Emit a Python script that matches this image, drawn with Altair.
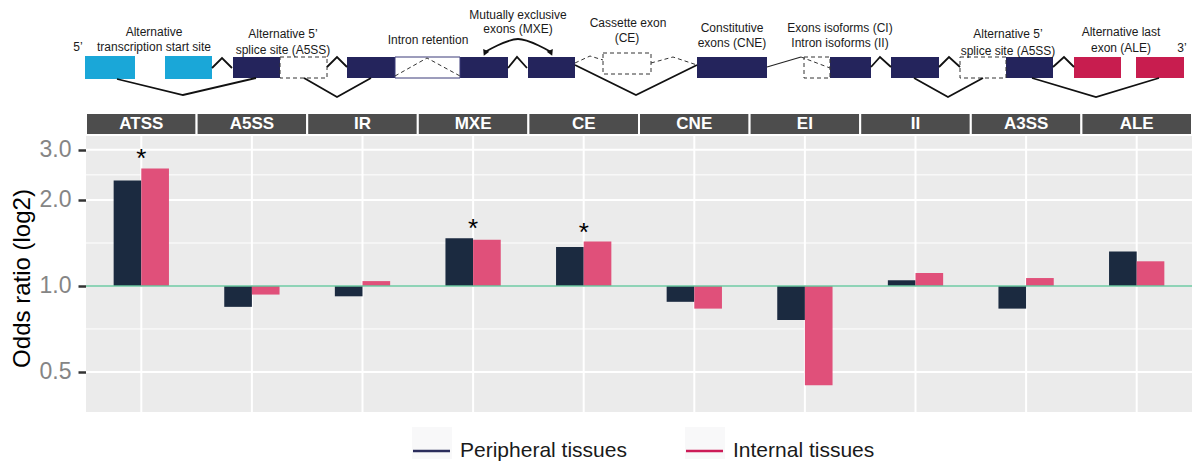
import altair as alt
import pandas as pd

FONT = "Liberation Sans"

# ---------------- data ----------------
categories = ["ATSS", "A5SS", "IR", "MXE", "CE", "CNE", "EI", "II", "A3SS", "ALE"]
series = ["Peripheral tissues", "Internal tissues"]
peripheral = [2.34, 0.845, 0.92, 1.47, 1.37, 0.88, 0.76, 1.047, 0.833, 1.32]
internal = [2.58, 0.933, 1.04, 1.45, 1.43, 0.833, 0.449, 1.11, 1.066, 1.22]
significant = [True, False, False, True, True, False, False, False, False, False]
y_ticks = [0.5, 1.0, 2.0, 3.0]
y_minor = [0.707, 1.414, 2.449]
y_domain = [0.362, 3.35]
bar_colors = ["#1b2a40", "#e0507a"]
legend_labels = ["Peripheral tissues", "Internal tissues"]
legend_colors = ["#2b2d5c", "#cc1b57"]

# ---------------- schematic diagram (page pixel layout) ----------------
cyan_boxes = [(85, 135, 56, 79), (165, 212, 56, 79)]
navy_boxes = [(233, 280, 57, 78), (347, 395, 57, 78), (460, 508, 57, 78), (528, 575, 57, 78),
              (697, 767, 57, 78), (830, 871, 57, 78), (891, 939, 57, 78), (1006, 1053, 57, 78)]
crimson_boxes = [(1074, 1121, 57, 78), (1136, 1184, 57, 78)]
intron_boxes = [(395, 460, 57, 78)]
dashed_boxes = [(280, 327, 57, 78), (603, 651, 53, 74), (804, 830, 57, 78), (960, 1006, 57, 78)]
solid_lines = [
    [(117, 79), (183, 95), (256, 78)],
    [(212, 68), (222, 58), (232, 68)],
    [(304, 78), (337, 97), (371, 78)],
    [(327, 67), (337, 57), (347, 67)],
    [(508, 68), (517, 57), (527, 68)],
    [(575, 65), (636, 95), (697, 65)],
    [(871, 67), (880, 57), (891, 67)],
    [(939, 67), (949, 57), (960, 67)],
    [(914, 78), (948, 97), (983, 78)],
    [(1053, 67), (1064, 57), (1074, 67)],
    [(1032, 78), (1096, 97), (1159, 78)],
]
thin_lines = [[(767, 67), (801, 57)]]
dashed_lines = [
    [(395, 76), (427, 58), (460, 76)],
    [(575, 63), (590, 56), (603, 60)],
    [(651, 63), (673, 57), (697, 65)],
    [(801, 57), (830, 68)],
]
arc_line = [[(485, 52), (518, 39), (551, 52)]]
arrow_heads = [(485, 53, 25), (551, 53, 335)]
diagram_texts = [
    ("5\u2019", 78, 47), ("Alternative", 154, 32), ("transcription start site", 154, 47),
    ("Alternative 5\u2019", 283, 34), ("splice site (A5SS)", 283, 50),
    ("Intron retention", 428, 40),
    ("Mutually exclusive", 518, 15), ("exons (MXE)", 518, 29),
    ("Cassette exon", 628, 23), ("(CE)", 627, 38),
    ("Constitutive", 732, 28), ("exons (CNE)", 732, 43),
    ("Exons isoforms (CI)", 840, 28), ("Intron isoforms (II)", 840, 43),
    ("Alternative 5\u2019", 1008, 34), ("splice site (A5SS)", 1008, 51),
    ("Alternative last", 1121, 32), ("exon (ALE)", 1121, 48),
    ("3\u2019", 1182, 48),
]
legend_key_left = [412, 685]
legend_y = 451

# ---------------- layout ----------------
W, H = 1106, 276
PLOT_LEFT, PLOT_TOP = 86, 136  # page position of the plot area

# ---------------- bar panel ----------------
df = pd.DataFrame({
    "category": categories * 2,
    "series": [series[0]] * len(categories) + [series[1]] * len(categories),
    "value": peripheral + internal,
})
stars_df = pd.DataFrame({
    "category": categories,
    "value": [max(a, b) for a, b in zip(peripheral, internal)],
    "sig": significant,
})
stars_df = stars_df[stars_df["sig"]].drop(columns="sig")
cat_df = pd.DataFrame({"category": categories})

xenc = alt.X("category:N", sort=categories,
             scale=alt.Scale(paddingInner=0, paddingOuter=0), axis=None)
ysc = alt.Scale(type="log", base=2, domain=y_domain, nice=False)
yax = alt.Axis(values=y_ticks, format=".1f", title="Odds ratio (log2)",
               grid=True, gridColor="white", gridWidth=2, domain=False,
               tickColor="#333333", tickWidth=2.5, tickSize=8, labelPadding=7,
               labelFontSize=23, labelColor="#858585", labelFont=FONT,
               titleFont=FONT, titleFontSize=24, titleFontWeight="normal",
               titleColor="black", titleAngle=270, titleX=-64, titleY=142,
               titleAlign="center", titleBaseline="middle")


def yenc(field="value"):
    return alt.Y(f"{field}:Q", scale=ysc, axis=yax)


bg = alt.Chart(pd.DataFrame({"k": [0]})).mark_rect(fill="#ebebeb").encode(
    x=alt.value(0), x2=alt.value(W), y=alt.value(0), y2=alt.value(H))
minor = alt.Chart(pd.DataFrame({"value": y_minor})).mark_rule(
    color="white", strokeWidth=1).encode(y=yenc())
major = alt.Chart(pd.DataFrame({"value": y_ticks})).mark_rule(
    color="white", strokeWidth=2).encode(y=yenc())
vgrid = alt.Chart(cat_df).mark_rule(color="white", strokeWidth=2).encode(x=xenc)
bars = alt.Chart(df).mark_bar().encode(
    x=xenc,
    xOffset=alt.XOffset("series:N", sort=series,
                        scale=alt.Scale(paddingInner=0, paddingOuter=1)),
    y=yenc(),
    y2=alt.datum(1),
    color=alt.Color("series:N", sort=series,
                    scale=alt.Scale(domain=series, range=bar_colors), legend=None),
)
baseline = alt.Chart(pd.DataFrame({"value": [1.0]})).mark_rule(
    color="#68c49e", strokeWidth=1.6).encode(y=yenc())
stars = alt.Chart(stars_df).mark_text(
    text="*", fontSize=26, baseline="alphabetic", dy=-1, color="black", font=FONT
).encode(x=xenc, y=yenc())
strip_bg = alt.Chart(cat_df).mark_rect(
    fill="#4d4d4d", stroke="white", strokeWidth=2
).encode(x=xenc, y=alt.value(-23), y2=alt.value(-1))
strip_txt = alt.Chart(cat_df).mark_text(
    color="white", fontSize=17, fontWeight="bold", font=FONT, baseline="middle"
).encode(x=xenc, y=alt.value(-12), text="category:N")

panel = alt.layer(bg, minor, major, vgrid, bars, baseline, stars, strip_bg, strip_txt)

# ---------------- diagram + legend (page-pixel scales) ----------------
sx = alt.Scale(domain=[PLOT_LEFT, PLOT_LEFT + W], nice=False, zero=False)
sy = alt.Scale(domain=[PLOT_TOP, PLOT_TOP + H], nice=False, zero=False, reverse=True)


def boxes(rows, **mark):
    d = pd.DataFrame(rows, columns=["x0", "x1", "y0", "y1"])
    return alt.Chart(d).mark_rect(**mark).encode(
        x=alt.X("x0:Q", scale=sx, axis=None), x2="x1:Q",
        y=alt.Y("y0:Q", scale=sy, axis=None), y2="y1:Q")


def polylines(lines, **mark):
    rows = []
    for i, pts in enumerate(lines):
        for j, (px, py) in enumerate(pts):
            rows.append({"seg": i, "ord": j, "px": px, "py": py})
    return alt.Chart(pd.DataFrame(rows)).mark_line(**mark).encode(
        x=alt.X("px:Q", scale=sx, axis=None),
        y=alt.Y("py:Q", scale=sy, axis=None),
        detail="seg:N", order="ord:Q")


def texts(rows, **mark):
    d = pd.DataFrame(rows, columns=["t", "px", "py"])
    return alt.Chart(d).mark_text(**mark).encode(
        x=alt.X("px:Q", scale=sx, axis=None),
        y=alt.Y("py:Q", scale=sy, axis=None), text="t:N")


diagram_layers = [
    boxes(cyan_boxes, fill="#1aa7d8"),
    boxes(navy_boxes, fill="#24245c"),
    boxes(crimson_boxes, fill="#c81d4f"),
    boxes(intron_boxes, fill="white", stroke="#3a3a78", strokeWidth=1),
    boxes(dashed_boxes, fill="white", stroke="#333333", strokeWidth=1, strokeDash=[4, 3]),
    polylines(solid_lines, color="#111111", strokeWidth=1.8),
    polylines(thin_lines, color="#222222", strokeWidth=1.1),
    polylines(dashed_lines, color="#333333", strokeWidth=1, strokeDash=[4, 3]),
    polylines(arc_line, color="#111111", strokeWidth=1.8, interpolate="cardinal"),
    alt.Chart(pd.DataFrame(arrow_heads, columns=["px", "py", "a"])).mark_point(
        shape="triangle-down", filled=True, size=45, color="#111111", opacity=1
    ).encode(x=alt.X("px:Q", scale=sx, axis=None),
             y=alt.Y("py:Q", scale=sy, axis=None),
             angle=alt.Angle("a:Q", scale=None)),
    texts(diagram_texts, fontSize=12, font=FONT, color="#1a1a1a",
          align="center", baseline="middle"),
]

legend_layers = []
for left, lab, col in zip(legend_key_left, legend_labels, legend_colors):
    legend_layers.append(boxes([(left, left + 40, legend_y - 24, legend_y + 8)], fill="#f8f8f9"))
    legend_layers.append(polylines([[(left + 1, legend_y), (left + 38, legend_y)]],
                                   color=col, strokeWidth=2.5))
    legend_layers.append(texts([(lab, left + 48, legend_y)], fontSize=21, font=FONT,
                               color="#1a1a1a", align="left", baseline="middle"))

overlay = alt.layer(*diagram_layers, *legend_layers)

chart = alt.layer(panel, overlay).resolve_scale(
    x="independent", y="independent"
).properties(
    width=W, height=H,
    padding={"left": PLOT_LEFT - 8, "top": PLOT_TOP - 8, "right": 0, "bottom": 52},
    autosize=alt.AutoSizeParams(type="none"),
).configure(font=FONT).configure_view(stroke=None, fill="#ebebeb")

chart.save("out.html", embed_options={"renderer": "svg", "actions": False})
